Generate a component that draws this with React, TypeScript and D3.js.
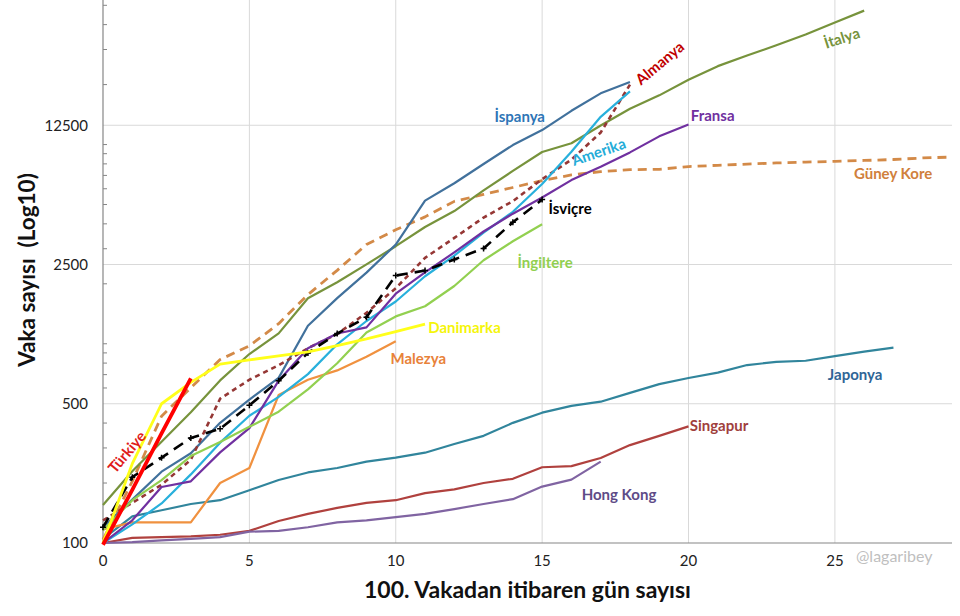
import { useEffect, useRef } from "react";
import * as d3 from "d3";

// cases by day since the 100th case
const turkiye = [98, 185, 355, 670];
const danimarka = [100, 250, 500, 640, 790, 830, 870, 910, 980, 1057, 1151, 1255];
const malezya = [117, 127, 127, 127, 200, 238, 553, 660, 735, 860, 1030];
const italya = [
  155, 229, 322, 453, 655, 888, 1128, 1694, 2036, 2502, 3089, 3858, 4636, 5883,
  7375, 9172, 10149, 12462, 15113, 17660, 21157, 24747, 27980, 31506, 35713,
  41035, 47021,
];
const ispanya = [
  120, 165, 228, 282, 401, 525, 674, 1231, 1695, 2277, 3146, 5232, 6391, 7988,
  9942, 11826, 14769, 18077, 20600,
];
const almanya = [
  130, 159, 196, 262, 530, 660, 780, 950, 1120, 1430, 1900, 2700, 3400, 4300,
  5200, 6700, 8400, 11500, 20000,
];
const amerika = [
  100, 124, 158, 221, 319, 435, 541, 704, 994, 1301, 1630, 2183, 2770, 3613,
  4596, 6344, 9197, 13779, 18500,
];
const fransa = [
  100, 130, 191, 204, 285, 377, 653, 949, 1126, 1209, 1784, 2281, 2876, 3661,
  4499, 5423, 6633, 7730, 9134, 10995, 12612,
];
const guneyKore = [
  104, 204, 433, 602, 833, 977, 1261, 1766, 2337, 3150, 3736, 4335, 5186, 5621,
  6088, 6593, 7041, 7313, 7478, 7513, 7755, 7869, 7979, 8086, 8162, 8236, 8320,
  8413, 8565, 8652,
];
const isvicre = [
  120, 214, 268, 337, 374, 491, 652, 900, 1125, 1359, 2200, 2330, 2650, 3010,
  4075, 5294,
];
const ingiltere = [
  116, 164, 207, 273, 321, 383, 456, 590, 798, 1140, 1372, 1543, 1950, 2626,
  3269, 3983,
];
const japonya = [
  105, 136, 146, 157, 164, 184, 207, 226, 238, 256, 268, 284, 314, 345, 401, 451,
  488, 512, 567, 627, 673, 717, 782, 811, 822, 867, 913, 957,
];
const singapur = [
  100, 106, 107, 108, 110, 115, 129, 140, 150, 159, 164, 178, 186, 200, 210, 240,
  243, 267, 310, 345, 385,
];
const hongKong = [
  100, 101, 103, 105, 107, 114, 115, 120, 127, 130, 135, 140, 148, 157, 166, 192,
  208, 256,
];

const yMajorTicks = [100, 500, 2500, 12500];
const xTicks = [0, 5, 10, 15, 20, 25];

interface Series {
  values: number[];
  color: string;
  width: number;
  dash?: string;
  plus?: boolean;
}

const series: Series[] = [
  { values: japonya, color: "#31859C", width: 2.2 },
  { values: singapur, color: "#B0413E", width: 2.2 },
  { values: hongKong, color: "#8064A2", width: 2.2 },
  { values: malezya, color: "#F0913F", width: 2.2 },
  { values: guneyKore, color: "#D38A48", width: 2.8, dash: "9,6" },
  { values: italya, color: "#77933C", width: 2.2 },
  { values: ispanya, color: "#41719C", width: 2.2 },
  { values: almanya, color: "#953735", width: 2.6, dash: "5,4" },
  { values: amerika, color: "#28B0DC", width: 2.2 },
  { values: fransa, color: "#7030A0", width: 2.2 },
  { values: ingiltere, color: "#92D050", width: 2.2 },
  { values: isvicre, color: "#000000", width: 2.6, dash: "11,7", plus: true },
  { values: danimarka, color: "#FFFF1A", width: 2.8 },
  { values: turkiye, color: "#FF0000", width: 3.8 },
];

interface Label {
  text: string;
  day: number;
  value: number;
  color: string;
  rotate?: number;
}

const labels: Label[] = [
  { text: "İspanya", day: 13.37, value: 12980, color: "#2E75B6" },
  { text: "Almanya", day: 19.02, value: 25640, color: "#C00000", rotate: -40 },
  { text: "İtalya", day: 25.24, value: 34250, color: "#77933C", rotate: -18 },
  { text: "Fransa", day: 20.08, value: 13130, color: "#7030A0" },
  { text: "Amerika", day: 16.93, value: 9177, color: "#25ACD8", rotate: -19 },
  { text: "Güney Kore", day: 25.65, value: 6716, color: "#D0803C" },
  { text: "İsviçre", day: 15.22, value: 4484, color: "#000000" },
  { text: "İngiltere", day: 14.16, value: 2400, color: "#92D050" },
  { text: "Danimarka", day: 11.11, value: 1133, color: "#F5F50A" },
  { text: "Malezya", day: 9.82, value: 792, color: "#E8823A" },
  { text: "Japonya", day: 24.76, value: 659, color: "#2F6596" },
  { text: "Singapur", day: 20.04, value: 365, color: "#A0403C" },
  { text: "Hong Kong", day: 16.35, value: 164, color: "#5E4B87" },
  { text: "Türkiye", day: 0.82, value: 286, color: "#E01B1B", rotate: -50 },
];

export default function App() {
  const svgRef = useRef<SVGSVGElement>(null);

  useEffect(() => {
    if (!svgRef.current) return;
    const svg = d3.select(svgRef.current);
    svg.selectAll("*").remove();

    const x = d3.scaleLinear().domain([0, 29]).range([103, 952]);
    const y = d3.scaleLog().domain([100, 62500]).range([543, -14]);
    const [x0, x1] = x.range();
    const y0 = y(100);

    // grid
    const grid = svg.append("g").attr("stroke", "#D9D9D9").attr("stroke-width", 1);
    yMajorTicks
      .filter((t) => t > 100)
      .forEach((t) => {
        grid.append("line").attr("x1", x0).attr("x2", x1).attr("y1", y(t)).attr("y2", y(t));
      });
    xTicks
      .filter((t) => t > 0)
      .forEach((t) => {
        grid.append("line").attr("x1", x(t)).attr("x2", x(t)).attr("y1", 0).attr("y2", y0);
      });

    // axes
    const axis = svg.append("g").attr("stroke", "#868686").attr("stroke-width", 1.2);
    axis.append("line").attr("x1", x0).attr("x2", x0).attr("y1", 0).attr("y2", y0);
    axis.append("line").attr("x1", x0).attr("x2", x1).attr("y1", y0).attr("y2", y0);
    y.ticks()
      .filter((t) => !yMajorTicks.includes(t) && y(t) > 0)
      .forEach((t) => {
        axis
          .append("line")
          .attr("x1", x0)
          .attr("x2", x0 + 4)
          .attr("y1", y(t))
          .attr("y2", y(t))
          .attr("stroke-width", 1);
      });

    const font = "Lato, 'Open Sans', sans-serif";

    svg
      .append("g")
      .selectAll("text")
      .data(yMajorTicks)
      .join("text")
      .attr("x", x0 - 15)
      .attr("y", (d) => y(d))
      .attr("dy", "0.35em")
      .attr("text-anchor", "end")
      .attr("font-family", font)
      .attr("font-size", 15)
      .attr("fill", "#222")
      .text((d) => String(d));

    svg
      .append("g")
      .selectAll("text")
      .data(xTicks)
      .join("text")
      .attr("x", (d) => x(d))
      .attr("y", y0 + 23)
      .attr("text-anchor", "middle")
      .attr("font-family", font)
      .attr("font-size", 15)
      .attr("fill", "#222")
      .text((d) => String(d));

    // series
    const line = d3
      .line<number>()
      .x((_, i) => x(i))
      .y((d) => y(d));

    series.forEach((s) => {
      svg
        .append("path")
        .datum(s.values)
        .attr("fill", "none")
        .attr("stroke", s.color)
        .attr("stroke-width", s.width)
        .attr("stroke-linejoin", "round")
        .attr("stroke-dasharray", s.dash ?? null)
        .attr("d", line);
      if (s.plus) {
        svg
          .append("g")
          .selectAll("path")
          .data(s.values)
          .join("path")
          .attr("d", (d, i) => {
            const cx = x(i);
            const cy = y(d);
            return `M${cx - 3},${cy}H${cx + 3}M${cx},${cy - 3}V${cy + 3}`;
          })
          .attr("stroke", s.color)
          .attr("stroke-width", 1.5);
      }
    });

    // labels
    labels.forEach((l) => {
      const t = svg
        .append("text")
        .attr("font-family", font)
        .attr("font-size", 15)
        .attr("font-weight", 700)
        .attr("fill", l.color)
        .text(l.text);
      if (l.rotate !== undefined) {
        t.attr("text-anchor", "middle")
          .attr("dy", "0.35em")
          .attr("transform", `translate(${x(l.day)},${y(l.value)}) rotate(${l.rotate})`);
      } else {
        t.attr("x", x(l.day)).attr("y", y(l.value));
      }
    });

    svg
      .append("text")
      .attr("x", x(25.72))
      .attr("y", y0 + 19)
      .attr("font-family", font)
      .attr("font-size", 16)
      .attr("fill", "#BFBFBF")
      .text("@lagaribey");

    // axis titles
    svg
      .append("text")
      .attr("x", (x0 + x1) / 2)
      .attr("y", 598)
      .attr("text-anchor", "middle")
      .attr("font-family", font)
      .attr("font-size", 23)
      .attr("font-weight", 700)
      .attr("fill", "#111")
      .text("100. Vakadan itibaren gün sayısı");

    svg
      .append("text")
      .attr("transform", `translate(35,270) rotate(-90)`)
      .attr("text-anchor", "middle")
      .attr("font-family", font)
      .attr("font-size", 22.5)
      .attr("font-weight", 700)
      .attr("fill", "#111")
      .attr("xml:space", "preserve")
      .style("white-space", "pre")
      .text("Vaka sayısı  (Log10)");
  }, []);

  return (
    <svg
      ref={svgRef}
      width={960}
      height={616}
      viewBox="0 0 960 616"
      style={{ position: "absolute", left: 0, top: 0, background: "#fff" }}
    />
  );
}
